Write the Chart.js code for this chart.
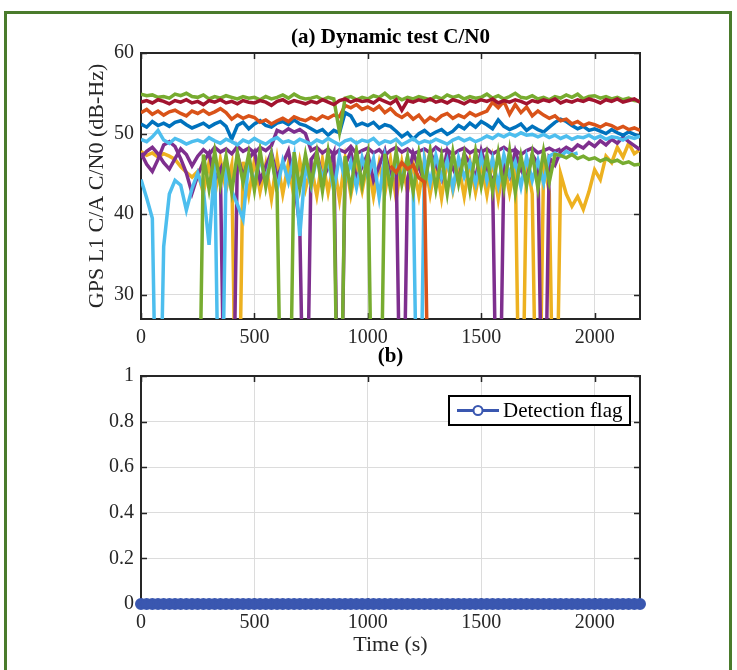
<!DOCTYPE html>
<html>
<head>
<meta charset="utf-8">
<title>Dynamic test C/N0</title>
<script src="https://cdn.jsdelivr.net/npm/chart.js@4.4.1/dist/chart.umd.min.js"></script>
<style>
  html, body { margin: 0; padding: 0; background: #fff; }
  body { width: 737px; height: 670px; position: relative; overflow: hidden; }
  .frame { position: absolute; left: 4px; top: 11px; width: 722px; height: 700px; border: 3px solid #4a7b2c; }
  #cn0Chart { position: absolute; left: 0; top: 0; }
  #flagChart { position: absolute; left: 0; top: 345px; }
</style>
</head>
<body>
<div class="frame"></div>
<canvas id="cn0Chart" width="737" height="360"></canvas>
<canvas id="flagChart" width="737" height="325"></canvas>
<script>
// time axis (s), one sample every 25 s
const timeSec = [
  0, 25, 50, 75, 100, 125, 150, 175, 200, 225,
  250, 275, 300, 325, 350, 375, 400, 425, 450, 475,
  500, 525, 550, 575, 600, 625, 650, 675, 700, 725,
  750, 775, 800, 825, 850, 875, 900, 925, 950, 975,
  1000, 1025, 1050, 1075, 1100, 1125, 1150, 1175, 1200, 1225,
  1250, 1275, 1300, 1325, 1350, 1375, 1400, 1425, 1450, 1475,
  1500, 1525, 1550, 1575, 1600, 1625, 1650, 1675, 1700, 1725,
  1750, 1775, 1800, 1825, 1850, 1875, 1900, 1925, 1950, 1975,
  2000, 2025, 2050, 2075, 2100, 2125, 2150, 2175, 2200
];

// tick positions
const timeTicks = [0, 500, 1000, 1500, 2000];
const cn0Ticks = [30, 40, 50, 60];
const flagTicks = [0, 0.2, 0.4, 0.6, 0.8, 1];

// C/N0 per satellite (dB-Hz); 0 = loss of lock, null = not tracked
const cn0Yellow = [
  47.8, 47.3, 47.6, 47.1, 47.5, 47.2, 46.8, 45.9, 45.2, 44.6,
  45.3, 42.6, 46.4, 42.2, 46.8, 43.0, 46.1, 0, 46.5, 42.4,
  46.7, 42.8, 46.2, 41.9, 46.9, 42.5, 46.3, 42.1, 46.6, 43.1,
  46.0, 42.3, 46.8, 42.7, 46.4, 41.8, 46.9, 42.4, 46.1, 42.9,
  46.6, 42.2, 46.3, 42.6, 46.8, 41.9, 46.5, 42.8, 46.2, 42.3,
  46.9, 42.5, 46.4, 42.0, 46.7, 42.9, 46.1, 42.2, 46.6, 42.7,
  46.3, 42.4, 46.8, 41.9, 46.5, 42.6, 46.2, 0, 46.7, 42.5,
  0, 46.4, 42.8, 0, 45.0, 42.5, 41.0, 42.2, 40.6, 42.8,
  45.5, 44.3, 47.2, 46.4, 48.3, 47.1, 48.8, 47.5, 48.0
];
const cn0PurpleA = [
  47.6, 46.2, 45.3, 46.8, 48.6, 49.0, 48.4, 46.9, 45.1, 42.6,
  44.8, 46.5, 47.6, 44.3, 45.6, 0, 0, 47.5, 44.6, 46.9,
  47.8, 44.2, 45.9, 47.7, 44.5, 46.3, 47.9, 44.1, 38.5, 0,
  46.8, 47.7, 44.3, 45.8, 47.6, 0, 46.1, 47.8, 44.4, 45.9,
  47.5, 44.2, 46.0, 47.9, 44.6, 46.4, 0, 44.3, 47.6, 45.8,
  44.1, 47.7, 46.2, 44.4, 47.8, 45.7, 44.2, 47.5, 46.3, 44.5,
  47.9, 45.6, 44.3, 0, 46.4, 44.7, 47.8, 45.5, 44.2, 47.4,
  46.2, 0, 47.0, 46.1, 47.8, 48.3, 47.9, 48.6, 48.2, 48.9,
  48.4, 49.1, 48.6, 49.3, 48.8, 49.6, 49.0, 48.5, 48.0
];
const cn0PurpleB = [
  47.0, 47.8, 48.3, 47.5, 46.4, 45.6, 46.9, 48.1, 47.4, 46.0,
  47.2, 48.0, 47.4, 48.3, 47.7, 48.1, 47.5, 48.4, 47.8, 48.2,
  47.6, 48.3, 47.9, 48.5, 50.4, 50.1, 50.6, 50.2, 50.5, 50.0,
  47.9, 48.3, 47.6, 48.1, 47.4, 48.0, 47.7, 48.4, 47.5, 47.9,
  48.2, 47.6, 48.0, 47.3, 47.9, 48.3, 47.7, 48.1, 47.5, 47.8,
  48.1, 47.6, 48.3, 47.8, 48.0, 47.4, 47.9, 48.2, 47.6, 48.0,
  47.7, 48.1, 47.5, 47.9, 48.3, 47.8, 48.0, 47.4, 47.9, 48.2,
  47.6, 47.9, 48.2, 47.8, 48.1, null, null, null, null, null,
  null, null, null, null, null, null, null, null, null
];
const cn0LightBlueB = [
  44.3, 42.0, 39.5, 0, 36.0, 42.5, 44.2, 43.6, 40.5, 43.2,
  45.1, 43.0, 36.2, 46.4, 0, 45.8, 42.9, 41.2, 39.4, 46.5,
  43.8, 46.9, 44.2, 47.3, 43.1, 46.6, 44.0, 47.2, 37.3, 46.1,
  43.5, 47.1, 44.4, 46.8, 42.9, 47.3, 44.1, 46.5, 43.3, 47.0,
  44.6, 46.9, 42.1, 47.2, 43.7, 46.4, 44.3, 47.1, 43.5, 0,
  46.8, 43.9, 47.3, 44.5, 46.7, 43.2, 47.0, 44.6, 46.4, 43.8,
  47.2, 44.1, 46.9, 43.6, 47.4, 44.8, 46.5, 43.4, 47.1, 44.2,
  46.7, 43.9, 47.2, 47.6, 47.2, 47.8, 47.4, 47.6, null, null,
  null, null, null, null, null, null, null, null, null
];
const cn0GreenB = [
  null, null, null, null, null, null, null, null, null, null,
  0, 47.4, 43.1, 47.8, 43.6, 47.2, 42.8, 47.6, 43.9, 47.5,
  43.0, 47.9, 43.4, 47.3, 42.7, 0, 0, 47.7, 43.2, 47.4,
  43.8, 47.6, 42.9, 47.8, 43.5, 0, 47.2, 43.1, 47.9, 43.6,
  47.3, 0, 0, 47.5, 43.0, 47.8, 43.7, 47.1, 42.8, 47.6,
  43.4, 47.9, 43.1, 47.2, 42.6, 47.7, 43.8, 47.4, 43.0, 47.8,
  43.5, 47.3, 42.9, 47.6, 43.3, 47.9, 42.7, 47.2, 43.6, 47.5,
  43.2, 47.8, 44.0, 47.4, 47.3, 47.0, 47.4, 46.9, 47.2, 46.8,
  47.0, 46.6, 46.9, 46.5, 46.7, 46.3, 46.5, 46.1, 46.2
];
const cn0OrangeB = [
  null, null, null, null, null, null, null, null, null, null,
  null, null, null, null, null, null, null, null, null, null,
  null, null, null, null, null, null, null, null, null, null,
  null, null, null, null, null, null, null, null, null, null,
  null, null, null, null, 46.0, 45.2, 46.4, 45.6, 46.1, 44.5,
  44.0, 0, null, null, null, null, null, null, null, null,
  null, null, null, null, null, null, null, null, null, null,
  null, null, null, null, null, null, null, null, null, null,
  null, null, null, null, null, null, null, null, null
];
const cn0Blue = [
  51.2, 50.8, 51.5, 51.0, 51.3, 50.9, 51.4, 51.6, 51.1, 50.7,
  51.0, 51.3, 50.8, 51.2, 51.5, 50.9, 49.3, 51.0, 51.4, 50.6,
  51.2, 51.6, 51.0, 50.8, 51.3, 51.5, 51.1, 51.7, 51.2, 51.0,
  50.6, 50.2, 50.5, 49.8, 50.4, 50.1, 52.6, 52.2, 51.0, 51.3,
  51.0, 51.4, 50.7, 51.1, 50.9, 50.3, 49.6, 50.1, 49.3, 50.0,
  50.4, 49.8, 50.2, 50.5, 49.9, 50.3, 51.0, 50.6, 51.3, 50.8,
  51.5, 51.1, 50.6, 51.7, 50.9, 50.5, 50.8, 51.2, 50.4, 50.9,
  50.5, 50.2, 50.8, 51.4, 51.8, 51.5, 51.0, 50.6, 50.9, 50.4,
  50.6, 50.3, 50.0, 50.5, 50.1, 49.8, 50.2, 49.9, 49.6
];
const cn0OrangeA = [
  52.6, 53.0, 52.4, 52.8, 52.3, 52.7, 52.9, 52.5, 52.2, 52.8,
  52.5, 52.9, 52.4, 52.7, 53.1, 52.6, 51.8, 52.3, 51.9, 52.2,
  52.0, 51.4, 51.7, 51.2, 51.6, 51.9, 51.5, 52.1, 51.8, 51.6,
  52.0, 51.7, 52.2, 51.9, 52.3, 52.1, 53.5, 53.2, 53.6, 53.0,
  53.3, 52.9, 53.4, 52.6, 53.1, 52.4, 52.0, 52.5, 51.8, 52.3,
  51.4, 52.0, 51.6, 52.2, 52.5, 51.9, 52.3, 52.0, 52.6, 52.2,
  52.5, 52.8, 53.9, 53.2, 54.0, 52.4, 53.6, 52.6, 53.3, 52.2,
  52.8, 52.3, 51.9, 52.2, 51.6, 51.8, 51.2, 51.5, 51.0, 51.3,
  51.1, 50.8, 51.2, 51.0, 50.6, 50.9, 50.5, 50.7, 50.4
];
const cn0LightBlueA = [
  49.3, 49.0, 49.6, 50.4, 49.2, 48.8, 49.4, 49.1, 48.7, 49.0,
  49.2, 48.9, 49.5, 49.1, 48.8, 49.3, 49.0, 48.6, 49.2, 48.9,
  49.4, 49.0, 48.7, 49.2, 49.5, 48.9, 49.1, 48.8, 49.3, 49.0,
  48.7, 49.2, 48.9, 49.4, 49.0, 48.6, 49.1, 49.3, 48.8, 49.2,
  49.0, 49.4, 48.7, 49.1, 48.9, 49.3, 48.6, 49.0, 49.4, 48.8,
  49.1, 48.9, 49.3, 49.0, 48.7, 49.2, 49.5, 49.1, 49.4, 49.0,
  49.3, 49.7, 49.4, 49.9, 49.6, 50.0, 49.7, 50.1, 49.8, 49.9,
  49.6, 49.9, 49.5, 49.8, 49.4, 49.7, 49.3, 49.6, 49.5, 49.8,
  49.4, 49.7, 49.3, 49.6, 49.5, 49.2, 49.6, 49.4, 49.7
];
const cn0GreenA = [
  54.9, 54.7, 54.8, 54.5, 54.6, 54.4, 54.9, 54.7, 55.0, 54.6,
  54.5, 54.8, 54.3, 54.6, 54.4, 54.7, 54.5, 54.3, 54.6, 54.4,
  54.5, 54.2, 54.6, 54.3, 54.5, 54.8, 54.4, 54.9, 54.5, 54.3,
  54.4, 54.6, 54.2, 54.5, 54.3, 50.2, 54.4, 54.6, 54.2, 54.5,
  54.3, 54.7, 54.5, 55.0, 54.4, 54.6, 54.2, 54.5, 54.3, 54.6,
  54.4, 54.2, 54.6, 54.3, 54.8, 54.5, 54.7, 54.3, 54.6, 54.4,
  54.5, 54.9, 54.4, 54.7, 54.3, 54.6, 55.0, 54.5, 54.4, 54.7,
  54.3, 54.5, 54.2, 54.6, 54.4, 54.8, 54.5, 54.9, 54.3, 54.6,
  54.7, 54.4, 54.6, 54.3, 54.5, 54.2, 54.4, 54.1, 54.0
];
const cn0DarkRed = [
  53.9, 54.1, 53.8, 54.2, 54.0, 53.7, 54.1, 53.9, 54.2, 53.8,
  54.0, 53.6, 54.1, 53.9, 54.2, 53.8, 54.0, 53.7, 54.1, 53.9,
  53.8, 54.1, 53.9, 53.5, 54.0, 54.2, 53.8, 54.1, 53.9, 53.7,
  54.0, 53.8, 54.2, 53.9, 53.6, 54.1, 54.3, 53.9, 54.2, 54.0,
  54.1, 53.8, 54.3, 54.0, 53.7, 54.2, 52.9, 54.1, 53.9, 54.2,
  54.0, 54.3, 53.9, 54.1, 53.8, 54.2, 54.0, 53.7, 54.1, 53.9,
  54.2, 54.0, 54.3, 53.8, 54.1, 53.9, 54.2, 54.0, 53.7, 54.1,
  53.9, 54.2, 54.0, 54.3, 53.8, 54.1, 53.9, 54.2, 54.0, 54.3,
  54.1, 53.8, 54.2, 54.0, 54.3, 53.9, 54.1, 54.3, 53.9
];

// spoofing detection flag (0 = no detection)
const detectionFlag = [
  0, 0, 0, 0, 0, 0, 0, 0, 0, 0,
  0, 0, 0, 0, 0, 0, 0, 0, 0, 0,
  0, 0, 0, 0, 0, 0, 0, 0, 0, 0,
  0, 0, 0, 0, 0, 0, 0, 0, 0, 0,
  0, 0, 0, 0, 0, 0, 0, 0, 0, 0,
  0, 0, 0, 0, 0, 0, 0, 0, 0, 0,
  0, 0, 0, 0, 0, 0, 0, 0, 0, 0,
  0, 0, 0, 0, 0, 0, 0, 0, 0, 0,
  0, 0, 0, 0, 0, 0, 0, 0, 0
];

// first in list = drawn first (underneath)
const cn0Series = [
  ['SV A', cn0Yellow, '#EDB120'],
  ['SV B', cn0PurpleA, '#7E2F8E'],
  ['SV C', cn0PurpleB, '#7E2F8E'],
  ['SV D', cn0LightBlueB, '#4DBEEE'],
  ['SV E', cn0GreenB, '#77AC30'],
  ['SV F', cn0OrangeB, '#D95319'],
  ['SV G', cn0Blue, '#0072BD'],
  ['SV H', cn0OrangeA, '#D95319'],
  ['SV I', cn0LightBlueA, '#4DBEEE'],
  ['SV J', cn0GreenA, '#77AC30'],
  ['SV K', cn0DarkRed, '#A2142F']
];

const serif = '"Liberation Serif", "Times New Roman", serif';
const axisInk = '#262626';
const gridGray = '#dcdcdc';
const tickFont = { family: serif, size: 20 };
const labelFont = { family: serif, size: 22 };

const fixTicks = values => scale => { scale.ticks = values.map(v => ({ value: v })); };

// matlab-like box, inward ticks and panel title
const panelDecor = {
  id: 'panelDecor',
  beforeDatasetsDraw(chart) {
    const { ctx, chartArea: a, scales } = chart;
    ctx.save();
    ctx.strokeStyle = axisInk;
    ctx.lineWidth = 1.5;
    ctx.beginPath();
    scales.x.ticks.forEach(t => {
      const px = Math.round(scales.x.getPixelForValue(t.value)) + 0.5;
      ctx.moveTo(px, a.bottom); ctx.lineTo(px, a.bottom - 6);
      ctx.moveTo(px, a.top); ctx.lineTo(px, a.top + 6);
    });
    scales.y.ticks.forEach(t => {
      const py = Math.round(scales.y.getPixelForValue(t.value)) + 0.5;
      ctx.moveTo(a.left, py); ctx.lineTo(a.left + 6, py);
      ctx.moveTo(a.right, py); ctx.lineTo(a.right - 6, py);
    });
    ctx.stroke();
    ctx.lineWidth = 2;
    ctx.strokeRect(a.left, a.top, a.right - a.left, a.bottom - a.top);
    ctx.restore();
  },
  afterDraw(chart, args, opts) {
    const { ctx, chartArea: a } = chart;
    ctx.save();
    ctx.font = 'bold 21px ' + serif;
    ctx.fillStyle = '#000';
    ctx.textAlign = 'center';
    ctx.textBaseline = 'middle';
    ctx.fillText(opts.text, (a.left + a.right) / 2, a.top - opts.offset);
    ctx.restore();
  }
};

// boxed legend inside the plot, top right
const flagLegend = {
  id: 'flagLegend',
  afterDraw(chart, args, opts) {
    const { ctx, chartArea: a } = chart;
    const ds = chart.data.datasets[0];
    const x0 = a.right - opts.right - opts.width;
    const y0 = a.top + opts.top;
    const cy = y0 + opts.height / 2;
    ctx.save();
    ctx.fillStyle = '#fff';
    ctx.fillRect(x0, y0, opts.width, opts.height);
    ctx.strokeStyle = '#000';
    ctx.lineWidth = 2;
    ctx.strokeRect(x0, y0, opts.width, opts.height);
    ctx.strokeStyle = ds.borderColor;
    ctx.lineWidth = 3;
    ctx.beginPath();
    ctx.moveTo(x0 + 8, cy); ctx.lineTo(x0 + 50, cy);
    ctx.stroke();
    ctx.beginPath();
    ctx.arc(x0 + 29, cy, 4.5, 0, Math.PI * 2);
    ctx.fillStyle = '#fff';
    ctx.fill();
    ctx.lineWidth = 2;
    ctx.stroke();
    ctx.fillStyle = '#000';
    ctx.font = '21px ' + serif;
    ctx.textAlign = 'left';
    ctx.textBaseline = 'middle';
    ctx.fillText(ds.label, x0 + 54, cy + 1);
    ctx.restore();
  }
};

const tickLabel = v => String(v);

new Chart(document.getElementById('cn0Chart'), {
  type: 'line',
  data: {
    labels: timeSec,
    datasets: cn0Series.map(([name, values, color], k) => ({
      label: name,
      data: values,
      borderColor: color,
      backgroundColor: color,
      borderWidth: 3.5,
      pointRadius: 0,
      fill: false,
      tension: 0,
      order: cn0Series.length - k
    }))
  },
  options: {
    responsive: false,
    animation: false,
    events: [],
    layout: { padding: { left: 80, right: 97, top: 53, bottom: 1 } },
    plugins: {
      legend: { display: false },
      tooltip: { enabled: false },
      panelDecor: { text: '(a) Dynamic test C/N0', offset: 15 }
    },
    scales: {
      x: {
        type: 'linear', min: 0, max: 2200,
        afterBuildTicks: fixTicks(timeTicks),
        afterFit: s => { s.height = 40; },
        border: { display: false },
        grid: { color: gridGray, drawTicks: false },
        ticks: { padding: 7, maxRotation: 0, autoSkip: false,
                 color: axisInk, font: tickFont, callback: tickLabel }
      },
      y: {
        min: 27, max: 60,
        afterBuildTicks: fixTicks(cn0Ticks),
        afterFit: s => { s.width = 61; },
        border: { display: false },
        grid: { color: gridGray, drawTicks: false },
        ticks: { padding: 7, autoSkip: false,
                 color: axisInk, font: tickFont, callback: tickLabel },
        title: { display: true, text: 'GPS L1 C/A C/N0 (dB-Hz)', color: axisInk,
                 font: labelFont, padding: { top: 4, bottom: 4 } }
      }
    }
  },
  plugins: [panelDecor]
});

new Chart(document.getElementById('flagChart'), {
  type: 'line',
  data: {
    labels: timeSec,
    datasets: [{
      label: 'Detection flag',
      data: detectionFlag,
      borderColor: '#3A57B0',
      backgroundColor: '#3A57B0',
      borderWidth: 3,
      pointRadius: 5,
      pointBorderWidth: 2,
      pointStyle: 'circle',
      clip: false,
      tension: 0
    }]
  },
  options: {
    responsive: false,
    animation: false,
    events: [],
    layout: { padding: { left: 80, right: 97, top: 31, bottom: 8 } },
    plugins: {
      legend: { display: false },
      tooltip: { enabled: false },
      panelDecor: { text: '(b)', offset: 19 },
      flagLegend: { right: 10, top: 20, width: 181, height: 29 }
    },
    scales: {
      x: {
        type: 'linear', min: 0, max: 2200,
        afterBuildTicks: fixTicks(timeTicks),
        afterFit: s => { s.height = 58; },
        border: { display: false },
        grid: { color: gridGray, drawTicks: false },
        ticks: { padding: 7, maxRotation: 0, autoSkip: false,
                 color: axisInk, font: tickFont, callback: tickLabel },
        title: { display: true, text: 'Time (s)', color: axisInk,
                 font: labelFont, padding: { top: 4, bottom: 4 } }
      },
      y: {
        min: 0, max: 1,
        afterBuildTicks: fixTicks(flagTicks),
        afterFit: s => { s.width = 61; },
        border: { display: false },
        grid: { color: gridGray, drawTicks: false },
        ticks: { padding: 7, autoSkip: false,
                 color: axisInk, font: tickFont, callback: tickLabel }
      }
    }
  },
  plugins: [panelDecor, flagLegend]
});
</script>
</body>
</html>
